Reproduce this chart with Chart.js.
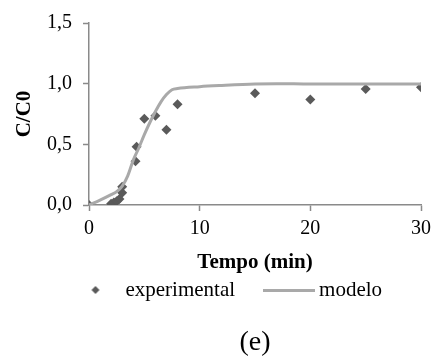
<!DOCTYPE html>
<html><head><meta charset="utf-8">
<script src="https://cdn.jsdelivr.net/npm/chart.js@4.4.1/dist/chart.umd.min.js"></script>
<style>html,body{margin:0;padding:0;background:#fff;}canvas{display:block;}</style>
</head><body>
<canvas id="c" width="437" height="357"></canvas>
<script>
// ---- data ----
const expTime = [0, 2.0, 2.25, 2.5, 2.75, 3.0, 3.0, 4.2, 4.3, 5, 6, 7, 8, 15, 20, 25, 30];
const expC    = [0, 0.01, 0.02, 0.03, 0.05, 0.10, 0.15, 0.36, 0.48, 0.71, 0.735, 0.62, 0.83, 0.92, 0.87, 0.957, 0.97];
const modelTime = [0, 1, 2, 2.5, 3, 3.5, 4, 4.5, 5, 5.5, 6, 6.5, 7, 7.5, 8, 10, 12, 15, 17, 20, 25, 30];
const modelC    = [0, 0.04, 0.085, 0.11, 0.155, 0.24, 0.37, 0.47, 0.58, 0.68, 0.77, 0.85, 0.91, 0.95, 0.96, 0.975, 0.985, 0.997, 1.0, 0.997, 0.997, 0.997];
const xTicks = [0, 10, 20, 30];
const yTicks = [0, 0.5, 1.0, 1.5];
const yTickLabels = ['0,0', '0,5', '1,0', '1,5'];
const seriesNames = ['experimental', 'modelo'];
const xTitle = 'Tempo (min)';
const yTitle = 'C/C0';
const panelLabel = '(e)';

const FONT = 'Liberation Serif';
const AXIS = '#8a8a8a';
const EXP_COLOR = '#5a5a5a';
const MODEL_COLOR = '#a9a9a9';

function makeDiamond(color, r) {
  const c = document.createElement('canvas');
  c.width = 2 * r + 2; c.height = 2 * r + 2;
  const g = c.getContext('2d');
  const m = r + 1;
  g.fillStyle = color;
  g.beginPath();
  g.moveTo(m - r, m); g.lineTo(m, m - r); g.lineTo(m + r, m); g.lineTo(m, m + r);
  g.closePath(); g.fill();
  return c;
}
function makeLine(color, w, h) {
  const c = document.createElement('canvas');
  c.width = w; c.height = h;
  const g = c.getContext('2d');
  g.fillStyle = color;
  g.fillRect(0, 0, w, h);
  return c;
}
const legendIcons = [makeDiamond(EXP_COLOR, 4), makeLine(MODEL_COLOR, 52, 3)];

const expData = expTime.map((t, i) => ({x: t, y: expC[i]}));
const modelData = modelTime.map((t, i) => ({x: t, y: modelC[i]}));

new Chart(document.getElementById('c'), {
  type: 'scatter',
  data: {
    datasets: [
      {
        label: seriesNames[0], data: expData,
        pointStyle: 'rectRot', pointRadius: 5, pointHoverRadius: 5,
        backgroundColor: EXP_COLOR, borderColor: EXP_COLOR, borderWidth: 0,
        showLine: false, order: 1
      },
      {
        label: seriesNames[1], data: modelData, type: 'line',
        showLine: true, pointRadius: 0, borderColor: MODEL_COLOR, borderWidth: 3,
        fill: false, cubicInterpolationMode: 'monotone', order: 0
      }
    ]
  },
  options: {
    responsive: false, animation: false,
    layout: {padding: {left: 34, right: 13, top: 20, bottom: 0}},
    scales: {
      x: {
        type: 'linear', min: 0, max: 30,
        afterBuildTicks: s => { s.ticks = xTicks.map(v => ({value: v})); },
        afterFit: s => { s.height = 40; },
        grid: {display: true, drawOnChartArea: false, drawTicks: true, tickLength: 6, color: AXIS, tickColor: AXIS, tickWidth: 1.5},
        border: {display: true, color: AXIS, width: 1.5},
        ticks: {color: '#000', padding: 6, font: {family: FONT, size: 20}, maxRotation: 0, callback: v => String(v)},
        title: {display: true, text: xTitle, color: '#000', font: {family: FONT, size: 21, weight: 'bold', lineHeight: 1.2}, padding: {top: 0, bottom: -30.6}}
      },
      y: {
        type: 'linear', min: 0, max: 1.5,
        afterBuildTicks: s => { s.ticks = yTicks.map(v => ({value: v})); },
        afterFit: s => { s.width = 55; },
        grid: {display: true, drawOnChartArea: false, drawTicks: true, tickLength: 6, color: AXIS, tickColor: AXIS, tickWidth: 1.5},
        border: {display: true, color: AXIS, width: 1.5},
        ticks: {color: '#000', padding: 11, font: {family: FONT, size: 20}, callback: v => yTickLabels[yTicks.indexOf(v)]},
        title: {display: true, text: yTitle, color: '#000', font: {family: FONT, size: 21, weight: 'bold', lineHeight: 1.2}, padding: {top: -21.6, bottom: 0}}
      }
    },
    plugins: {
      tooltip: {enabled: false},
      legend: {
        display: true, position: 'bottom', fullSize: true,
        labels: {
          usePointStyle: true, pointStyleWidth: 39, padding: 34.5, color: '#000',
          font: {family: FONT, size: 21},
          generateLabels: chart => chart.data.datasets.map((ds, i) => ({
            text: ds.label, pointStyle: legendIcons[i], fillStyle: EXP_COLOR,
            strokeStyle: EXP_COLOR, lineWidth: 0, hidden: false, datasetIndex: i, fontColor: '#000'
          }))
        }
      },
      title: {
        display: true, text: panelLabel, position: 'bottom', fullSize: false, color: '#000',
        font: {family: FONT, size: 28, weight: 'normal', lineHeight: 1.0},
        padding: {top: 18.5, bottom: 0}
      }
    }
  }
});
</script>
</body></html>
